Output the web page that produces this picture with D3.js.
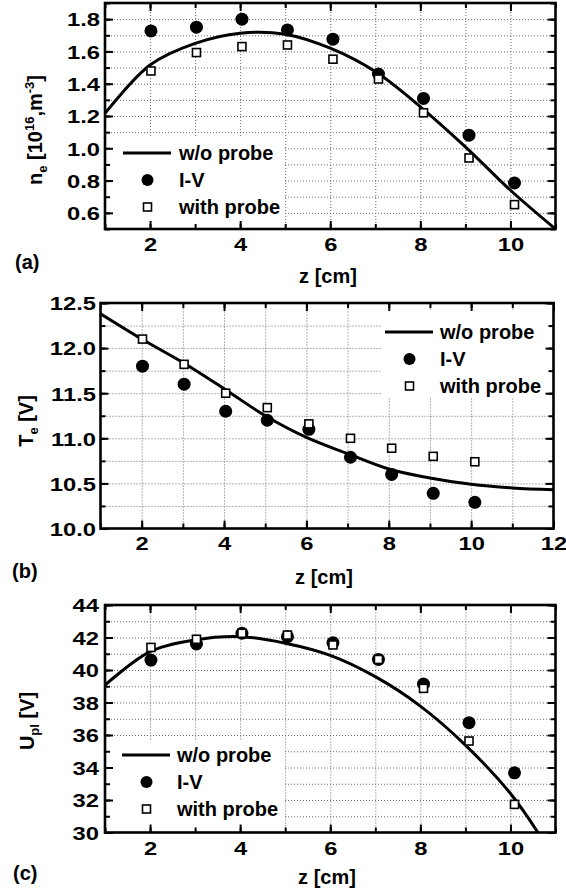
<!DOCTYPE html>
<html>
<head>
<meta charset="utf-8">
<script src="https://cdn.jsdelivr.net/npm/d3@7"></script>
<style>
  body { margin: 0; background: #fff; }
  text { font-family: Arial, "Liberation Sans", sans-serif; font-weight: bold; fill: #000; }
</style>
</head>
<body>
<svg id="fig" width="566" height="894"></svg>
<script>
// measurement positions, z [cm]
const zPts = [2.02, 3.03, 4.04, 5.05, 6.06, 7.07, 8.07, 9.08, 10.09];

// (a) electron density n_e [1e16 m^-3]
const neIV    = [1.727, 1.75, 1.80, 1.733, 1.676, 1.46, 1.309, 1.081, 0.785];
const neProbe = [1.479, 1.593, 1.630, 1.640, 1.552, 1.429, 1.220, 0.940, 0.651];
const neLineZ = [1, 2, 3, 4, 5, 6, 7, 8, 9, 10, 11];
const neLine  = [1.216, 1.516, 1.65, 1.713, 1.707, 1.62, 1.475, 1.257, 1.009, 0.74, 0.5];

// (b) electron temperature T_e [V]
const teIV    = [11.80, 11.60, 11.30, 11.20, 11.10, 10.79, 10.60, 10.39, 10.29];
const teProbe = [12.10, 11.82, 11.50, 11.34, 11.16, 11.00, 10.89, 10.80, 10.74];
const teLineZ = [1, 2, 3, 4, 5, 6, 7, 8, 9, 10, 11, 12];
const teLine  = [12.38, 12.10, 11.84, 11.55, 11.25, 11.01, 10.83, 10.66, 10.56, 10.49, 10.45, 10.43];

// (c) plasma potential U_pl [V]
const upIV    = [40.61, 41.6, 42.26, 42.05, 41.68, 40.65, 39.14, 36.76, 33.67];
const upProbe = [41.39, 41.89, 42.26, 42.15, 41.54, 40.65, 38.87, 35.63, 31.73];
const upLineZ = [1, 2, 3, 4, 5, 6, 7, 8, 9, 10, 10.61];
const upLine  = [39.07, 41.13, 41.85, 42.05, 41.65, 40.9, 39.59, 37.78, 35.38, 32.4, 30];

const legendNames = ['w/o probe', 'I-V', 'with probe'];

const svg = d3.select('#fig');
const TICK_SX = 1.25;

function drawPanel(p) {
  const x = d3.scaleLinear().domain(p.xDomain).range([p.left, p.right]);
  const y = d3.scaleLinear().domain(p.yDomain).range([p.bottom, p.top]);
  const w = p.right - p.left, h = p.bottom - p.top;
  const g = svg.append('g');

  const xMinor = d3.range(p.xDomain[0], p.xDomain[1] + 1e-9, 1);
  const xMajor = d3.range(2, p.xDomain[1] + 1e-9, 2);
  const yMinor = d3.range(p.yDomain[0], p.yDomain[1] + 1e-9, p.yMinor);
  const yMajor = d3.range(p.yMajor[0], p.yMajor[1] + 1e-9, p.yMajor[2]);

  // dotted grid
  const gx = g.append('g').attr('transform', `translate(0,${p.bottom})`)
    .call(d3.axisBottom(x).tickValues(xMinor.slice(1, -1)).tickSize(-h).tickFormat(''));
  const gy = g.append('g').attr('transform', `translate(${p.left},0)`)
    .call(d3.axisLeft(y).tickValues(yMinor.slice(1, -1)).tickSize(-w).tickFormat(''));
  [gx, gy].forEach(a => {
    a.select('.domain').remove();
    a.selectAll('line').attr('stroke', '#6a6a6a').attr('stroke-width', 1).attr('stroke-dasharray', '1,2');
  });

  // legend background
  g.append('rect')
    .attr('x', p.legend.box[0]).attr('y', p.legend.box[1])
    .attr('width', p.legend.box[2] - p.legend.box[0])
    .attr('height', p.legend.box[3] - p.legend.box[1])
    .attr('fill', '#fff');

  // fitted curve
  const clipId = 'clip' + p.id;
  svg.append('clipPath').attr('id', clipId).append('rect')
    .attr('x', p.left).attr('y', p.top).attr('width', w).attr('height', h);
  const line = d3.line().x(d => x(d[0])).y(d => y(d[1])).curve(d3.curveCatmullRom.alpha(0.5));
  g.append('path')
    .datum(d3.zip(p.lineZ, p.lineV))
    .attr('clip-path', `url(#${clipId})`)
    .attr('d', line)
    .attr('fill', 'none').attr('stroke', '#000').attr('stroke-width', 3);

  // I-V circles
  g.append('g').selectAll('circle')
    .data(d3.zip(zPts, p.iv))
    .join('circle')
    .attr('cx', d => x(d[0])).attr('cy', d => y(d[1])).attr('r', 6.5)
    .attr('fill', '#000');

  // with-probe squares
  g.append('g').selectAll('rect')
    .data(d3.zip(zPts, p.probe))
    .join('rect')
    .attr('x', d => x(d[0]) - 4).attr('y', d => y(d[1]) - 4)
    .attr('width', 8).attr('height', 8)
    .attr('fill', '#fff').attr('stroke', '#000').attr('stroke-width', 1.6);

  // ticks on all four sides (inward)
  function ticks(axisFn, vals, size, tr, labels) {
    const a = g.append('g').attr('transform', tr)
      .call(axisFn.tickValues(vals).tickSize(-size).tickFormat(labels || ''));
    a.select('.domain').remove();
    a.selectAll('line').attr('stroke', '#000').attr('stroke-width', 2);
    return a;
  }
  ticks(d3.axisBottom(x), xMinor, 5, `translate(0,${p.bottom})`);
  ticks(d3.axisTop(x), xMinor, 5, `translate(0,${p.top})`);
  ticks(d3.axisLeft(y), yMinor, 5, `translate(${p.left},0)`);
  ticks(d3.axisRight(y), yMinor, 5, `translate(${p.right},0)`);
  ticks(d3.axisTop(x), xMajor, 8, `translate(0,${p.top})`);
  ticks(d3.axisRight(y), yMajor, 8, `translate(${p.right},0)`);

  const bx = ticks(d3.axisBottom(x), xMajor, 8, `translate(0,${p.bottom})`, d3.format('d'));
  bx.selectAll('text')
    .attr('y', p.xLabelY).attr('dy', null)
    .attr('transform', `scale(${TICK_SX},1)`)
    .attr('fill', '#000').attr('font-size', 19).attr('font-family', null);

  const ly = ticks(d3.axisLeft(y), yMajor, 8, `translate(${p.left},0)`, d3.format(p.yFormat));
  ly.selectAll('text')
    .attr('x', -(p.left - p.yLabelRight) / TICK_SX).attr('dy', '0.36em')
    .attr('transform', `scale(${TICK_SX},1)`)
    .attr('fill', '#000').attr('font-size', 19).attr('font-family', null);

  // frame
  g.append('rect')
    .attr('x', p.left).attr('y', p.top).attr('width', w).attr('height', h)
    .attr('fill', 'none').attr('stroke', '#000').attr('stroke-width', 2.6);

  // legend items
  const L = p.legend;
  g.append('line')
    .attr('x1', L.x).attr('x2', L.x + 48).attr('y1', L.y).attr('y2', L.y)
    .attr('stroke', '#000').attr('stroke-width', 3);
  g.append('circle').attr('cx', L.x + 24.5).attr('cy', L.y + L.dy).attr('r', 6)
    .attr('fill', '#000');
  g.append('rect').attr('x', L.x + 24.5 - 4).attr('y', L.y + 2 * L.dy - 4)
    .attr('width', 8).attr('height', 8)
    .attr('fill', '#fff').attr('stroke', '#000').attr('stroke-width', 1.6);
  g.append('g').selectAll('text')
    .data(legendNames)
    .join('text')
    .attr('x', L.x + L.tx)
    .attr('y', (d, i) => L.y + i * L.dy)
    .attr('dy', '0.36em')
    .attr('font-size', 20)
    .text(d => d);

  // axis titles
  g.append('text')
    .attr('x', p.xTitle[0]).attr('y', p.xTitle[1])
    .attr('text-anchor', 'middle').attr('font-size', 20)
    .text('z [cm]');
  g.append('text')
    .attr('x', p.tag[0]).attr('y', p.tag[1])
    .attr('font-size', 20)
    .text(p.tagText);

  const yt = g.append('text')
    .attr('transform', `translate(${p.yTitle[0]},${p.yTitle[1]}) rotate(-90)`)
    .attr('text-anchor', 'middle').attr('font-size', 20);
  p.yTitleParts.forEach(part => {
    const t = yt.append('tspan').text(part[0]);
    if (part[1] === 'sub') t.attr('font-size', 13).attr('dy', 5);
    if (part[1] === 'sup') t.attr('font-size', 13).attr('dy', -8);
    if (part[1] === 'subEnd') t.attr('dy', -5);
    if (part[1] === 'supEnd') t.attr('dy', 8);
  });
}

drawPanel({
  id: 'a',
  xDomain: [1, 11], yDomain: [0.5, 1.9],
  left: 105, right: 555.5, top: 3, bottom: 229,
  yMinor: 0.1, yMajor: [0.6, 1.8, 0.2], yFormat: '.1f',
  iv: neIV, probe: neProbe, lineZ: neLineZ, lineV: neLine,
  xLabelY: 22, yLabelRight: 100,
  legend: { x: 123, y: 153, dy: 27, tx: 56, box: [106, 137, 284, 228] },
  xTitle: [328, 283], tag: [15, 269], tagText: '(a)',
  yTitle: [42, 130],
  yTitleParts: [['n'], ['e', 'sub'], [' [10', 'subEnd'], ['16', 'sup'], [',m', 'supEnd'], ['-3', 'sup'], [']', 'supEnd']]
});

drawPanel({
  id: 'b',
  xDomain: [1, 12], yDomain: [10, 12.5],
  left: 100.5, right: 553.5, top: 303, bottom: 528.5,
  yMinor: 0.25, yMajor: [10, 12.5, 0.5], yFormat: '.1f',
  iv: teIV, probe: teProbe, lineZ: teLineZ, lineV: teLine,
  xLabelY: 22, yLabelRight: 96,
  legend: { x: 385, y: 332, dy: 27, tx: 55, box: [381, 311, 552, 398] },
  xTitle: [324, 584], tag: [12, 578], tagText: '(b)',
  yTitle: [33, 421],
  yTitleParts: [['T'], ['e', 'sub'], [' [V]', 'subEnd']]
});

drawPanel({
  id: 'c',
  xDomain: [1, 11], yDomain: [30, 44],
  left: 105, right: 555.5, top: 605, bottom: 832.5,
  yMinor: 1, yMajor: [30, 44, 2], yFormat: 'd',
  iv: upIV, probe: upProbe, lineZ: upLineZ, lineV: upLine,
  xLabelY: 23, yLabelRight: 99,
  legend: { x: 122, y: 755, dy: 27, tx: 55, box: [106, 741, 284, 831] },
  xTitle: [327, 884], tag: [13, 880], tagText: '(c)',
  yTitle: [34, 721],
  yTitleParts: [['U'], ['pl', 'sub'], [' [V]', 'subEnd']]
});
</script>
</body>
</html>
